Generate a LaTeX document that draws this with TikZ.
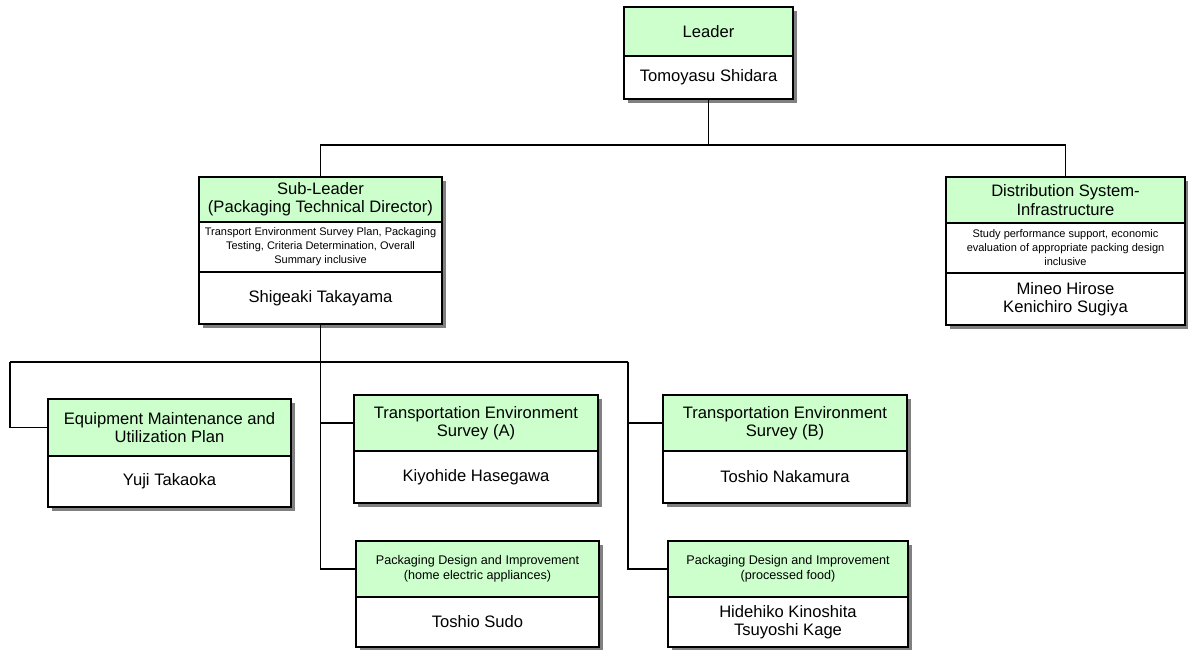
\documentclass[tikz,border=0pt]{standalone}
\usepackage{fontspec}
\setmainfont{Liberation Sans}
\usepackage{tikz}
\usetikzlibrary{positioning,shadows}
\definecolor{headgreen}{HTML}{CCFFCC}

\begin{document}
\begin{tikzpicture}[x=0.5pt, y=-0.5pt, thick]
	\tikzstyle{part}=[draw, line width=1pt, outer sep=0pt, inner sep=1pt,
		align=center, drop shadow={shadow xshift=2pt, shadow yshift=-2pt,
		fill=black!50, opacity=1}]
	\tikzstyle{head}=[part, fill=headgreen, font=\fontsize{8.3}{9.2}\selectfont]
	\tikzstyle{subhead}=[part, fill=headgreen, font=\fontsize{6.3}{7.6}\selectfont]
	\tikzstyle{who}=[part, fill=white, font=\fontsize{8.3}{9.2}\selectfont]
	\tikzstyle{task}=[part, fill=white, font=\fontsize{5.5}{7}\selectfont]
	\useasboundingbox (0,0) rectangle (1188,649);
	% % Nodes
	% leader
	\node[head, anchor=north, minimum width=84.5pt, minimum height=24.5pt]
	(leader) at (708.5,7) {Leader};
	\node[who, below=0pt of leader, minimum width=84.5pt, minimum height=21.5pt]
	(leadername) {Tomoyasu Shidara};
	% sub-leader
	\node[head, anchor=north, minimum width=121.5pt, minimum height=22.5pt]
	(sub) at (320.5,177) {Sub-Leader\\(Packaging Technical Director)};
	\node[task, below=0pt of sub, minimum width=121.5pt, minimum height=25pt]
	(subtask)
	{
		Transport Environment Survey Plan, Packaging\\
		Testing, Criteria Determination, Overall\\
		Summary inclusive
	};
	\node[who, below=0pt of subtask, minimum width=121.5pt, minimum height=26pt]
	(subname) {Shigeaki Takayama};
	% distribution system
	\node[head, anchor=north, minimum width=119.5pt, minimum height=23pt]
	(dist) at (1065.5,177) {Distribution System-\\Infrastructure};
	\node[task, below=0pt of dist, minimum width=119.5pt, minimum height=25pt]
	(disttask)
	{
		Study performance support, economic\\
		evaluation of appropriate packing design\\
		inclusive
	};
	\node[who, below=0pt of disttask, minimum width=119.5pt, minimum height=26pt]
	(distname) {Mineo Hirose\\Kenichiro Sugiya};
	% equipment
	\node[head, anchor=north, minimum width=121.5pt, minimum height=28.5pt]
	(equip) at (169.5,399) {Equipment Maintenance and\\Utilization Plan};
	\node[who, below=0pt of equip, minimum width=121.5pt, minimum height=25.5pt]
	(equipname) {Yuji Takaoka};
	% transportation survey A
	\node[head, anchor=north, minimum width=122pt, minimum height=28pt]
	(transA) at (476,395) {Transportation Environment\\Survey (A)};
	\node[who, below=0pt of transA, minimum width=122pt, minimum height=26pt]
	(transAname) {Kiyohide Hasegawa};
	% transportation survey B
	\node[head, anchor=north, minimum width=122pt, minimum height=28pt]
	(transB) at (785,395) {Transportation Environment\\Survey (B)};
	\node[who, below=0pt of transB, minimum width=122pt, minimum height=26pt]
	(transBname) {Toshio Nakamura};
	% packaging design A
	\node[subhead, anchor=north, minimum width=121.5pt, minimum height=28pt]
	(packA) at (477.5,541)
	{Packaging Design and Improvement\\(home electric appliances)};
	\node[who, below=0pt of packA, minimum width=121.5pt, minimum height=25pt]
	(packAname) {Toshio Sudo};
	% packaging design B
	\node[subhead, anchor=north, minimum width=120pt, minimum height=28pt]
	(packB) at (788,541)
	{Packaging Design and Improvement\\(processed food)};
	\node[who, below=0pt of packB, minimum width=120pt, minimum height=25pt]
	(packBname) {Hidehiko Kinoshita\\Tsuyoshi Kage};
	% % Connectors
	\coordinate (topbus) at (708.5,145);
	\coordinate (leftbus) at (10,362);
	\coordinate (rightbus) at (628,362);
	\draw (leadername.south) -- (topbus);
	\draw (sub.north) |- (topbus) -| (dist.north);
	\draw (leftbus) -- (rightbus);
	\draw (subname.south) |- (packA.west);
	\draw (transA.west) -- (transA.west -| subname.south);
	\draw (leftbus) |- (equip.west);
	\draw (rightbus) |- (packB.west);
	\draw (transB.west) -- (transB.west -| rightbus);
\end{tikzpicture}
\end{document}
